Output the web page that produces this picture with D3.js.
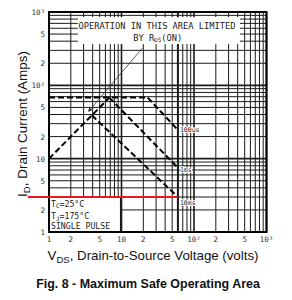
<!DOCTYPE html>
<html><head><meta charset="utf-8">
<script src="https://cdn.jsdelivr.net/npm/d3@7"></script>
<style>html,body{margin:0;padding:0;background:#fff;}svg{display:block;}</style>
</head><body>
<script>
// ---- data ----
const xTickValues = [1,2,5,10,20,50,100,200,500,1000];
const xTickLabels = ["1","2","5","10","2","5","10\u00B2","2","5","10\u00B3"];
const yTickValues = [1,2,5,10,20,50,100,200,500,1000];
const yTickLabels = ["1","2","5","10","2","5","10\u00B2","2","5","10\u00B3"];
// SOA boundary (V, A)
const rdsLimitV = [1, 6.8];
const rdsLimitI = [10, 68];
const pkgLimitV = [1, 23];
const pkgLimitI = [68, 68];
const line100usV = [23, 60];
const line100usI = [68, 24.6];
const line1msV = [6.8, 60];
const line1msI = [68, 7.5];
const line10msV = [3.9, 60];
const line10msI = [39, 3.0];
const curveLabels = ["100us","1ms","10ms"];
const redLineV = [0.51, 60];
const redLineI = [3.0, 3.0];
const arrowV = [19.2, 3.5];
const arrowI = [318, 44];

const W = 292, H = 300;
const svg = d3.select("body").append("svg").attr("width", W).attr("height", H);
const x = d3.scaleLog().domain([1,1000]).range([49, 266.5]);
const y = d3.scaleLog().domain([1,1000]).range([232, 12]);

function fit(sel, target) {
  const n = sel.node();
  const len = n.getComputedTextLength();
  const fs = parseFloat(sel.attr("font-size"));
  const k = target / len;
  sel.attr("font-size", fs * k);
  sel.selectAll("tspan").each(function() {
    const t = d3.select(this);
    if (t.attr("font-size")) t.attr("font-size", parseFloat(t.attr("font-size")) * k);
  });
}

// grid
const gridVals = [];
[1,10,100].forEach(d => { for (let m=1;m<=9;m++) gridVals.push(m*d); });
gridVals.push(1000);
const g = svg.append("g");
g.selectAll("line.vx").data(gridVals).join("line")
  .attr("x1", d=>x(d)).attr("x2", d=>x(d)).attr("y1", y(1)).attr("y2", y(1000))
  .attr("stroke", "#1a1a1a")
  .attr("stroke-width", d => (Math.log10(d)%1===0) ? 1.6 : (d===60 ? 2 : 1));
g.selectAll("line.hy").data(gridVals).join("line")
  .attr("y1", d=>y(d)).attr("y2", d=>y(d)).attr("x1", x(1)).attr("x2", x(1000))
  .attr("stroke", "#1a1a1a")
  .attr("stroke-width", d => (Math.log10(d)%1===0) ? 1.6 : 1);

// white annotation boxes
svg.append("rect").attr("x", x(2.5)).attr("y", y(850))
  .attr("width", x(430)-x(2.5)).attr("height", y(365)-y(850)).attr("fill", "#fff");
svg.append("rect").attr("x", x(1)+1).attr("y", y(2.9))
  .attr("width", x(9.7)-x(1)-1).attr("height", y(1)-y(2.9)).attr("fill", "#fff");
svg.append("line").attr("x1", x(9.7)).attr("x2", x(9.7)).attr("y1", y(2.9)).attr("y2", y(1))
  .attr("stroke", "#1a1a1a").attr("stroke-width", 1.2);

// frame
svg.append("rect").attr("x", x(1)).attr("y", y(1000))
  .attr("width", x(1000)-x(1)).attr("height", y(1)-y(1000))
  .attr("fill", "none").attr("stroke", "#000").attr("stroke-width", 2);

// SOA curves
const line = d3.line().x(d=>x(d[0])).y(d=>y(d[1]));
const curves = [
  [rdsLimitV, rdsLimitI], [pkgLimitV, pkgLimitI],
  [line100usV, line100usI], [line1msV, line1msI], [line10msV, line10msI]
];
svg.selectAll("path.soa").data(curves).join("path")
  .attr("d", c => line(d3.zip(c[0], c[1])))
  .attr("fill", "none").attr("stroke", "#000").attr("stroke-width", 2)
  .attr("stroke-dasharray", "6,3");

// curve labels
const mono = "DejaVu Sans Mono";
const labelData = [[line100usV, line100usI, 0], [line1msV, line1msI, 2], [line10msV, line10msI, 6]];
svg.selectAll("text.cl").data(labelData).join("text")
  .attr("x", d => x(d[0][1]) + 2).attr("y", (d) => y(d[1][1]) + d[2] + 2)
  .attr("font-family", mono).attr("font-size", 6.5).attr("fill", "#222")
  .attr("stroke", "#fff").attr("stroke-width", 2).attr("paint-order", "stroke")
  .text((d,i) => curveLabels[i]);

// arrow
svg.append("defs").append("marker").attr("id","ah").attr("viewBox","0 0 10 10")
  .attr("refX",9).attr("refY",5).attr("markerWidth",5).attr("markerHeight",5).attr("orient","auto")
  .append("path").attr("d","M0,0L10,5L0,10z").attr("fill","#222");
svg.append("line").attr("x1", x(arrowV[0])).attr("y1", y(arrowI[0]))
  .attr("x2", x(arrowV[1])).attr("y2", y(arrowI[1]))
  .attr("stroke", "#333").attr("stroke-width", 0.8).attr("marker-end","url(#ah)");

// red line
svg.append("line").attr("x1", x(redLineV[0])).attr("x2", x(redLineV[1]))
  .attr("y1", y(redLineI[0])).attr("y2", y(redLineI[1]))
  .attr("stroke", "#e8191c").attr("stroke-width", 2);

// annotation text
svg.append("text").attr("x", x(2.55)).attr("y", y(580)).attr("font-family", mono)
  .attr("font-size", 8.7).attr("fill", "#222").text("OPERATION IN THIS AREA LIMITED");
const t2 = svg.append("text").attr("x", x(14.5)).attr("y", y(400)).attr("font-family", mono)
  .attr("font-size", 8.7).attr("fill", "#222");
t2.append("tspan").text("BY R");
t2.append("tspan").attr("font-size", 6).attr("dy", 1).text("DS");
t2.append("tspan").attr("dy", -1).text("(ON)");

const b1 = svg.append("text").attr("x", x(1)+2).attr("y", y(2.2)).attr("font-family", mono)
  .attr("font-size", 8.2).attr("fill", "#222");
b1.append("tspan").text("T");
b1.append("tspan").attr("font-size", 6).attr("dy", 1.5).text("C");
b1.append("tspan").attr("dy", -1.5).text("=25\u00B0C");
const b2 = svg.append("text").attr("x", x(1)+2).attr("y", y(1.5)).attr("font-family", mono)
  .attr("font-size", 8.2).attr("fill", "#222");
b2.append("tspan").text("T");
b2.append("tspan").attr("font-size", 6).attr("dy", 1.5).text("J");
b2.append("tspan").attr("dy", -1.5).text("=175\u00B0C");
svg.append("text").attr("x", x(1)+2).attr("y", y(1.09)).attr("font-family", mono)
  .attr("font-size", 8.2).attr("fill", "#222").text("SINGLE PULSE");

// tick labels
svg.selectAll("text.xt").data(xTickValues).join("text")
  .attr("x", d=>x(d)).attr("y", 242).attr("text-anchor","middle")
  .attr("font-family", mono).attr("font-size", 7.5).attr("fill", "#333")
  .text((d,i)=>xTickLabels[i]);
svg.selectAll("text.yt").data(yTickValues).join("text")
  .attr("x", 45).attr("y", d=>y(d)+3).attr("text-anchor","end")
  .attr("font-family", mono).attr("font-size", 7.5).attr("fill", "#333")
  .text((d,i)=>yTickLabels[i]);

// axis titles
const sans = "Liberation Sans, Arial, sans-serif";
const yt = svg.append("text").attr("transform","translate(27,124) rotate(-90)")
  .attr("text-anchor","middle").attr("font-family", sans).attr("font-size", 12.5).attr("fill","#111");
yt.append("tspan").text("I");
yt.append("tspan").attr("font-size", 9).attr("dy", 3).text("D");
yt.append("tspan").attr("dy", -3).text(", Drain Current (Amps)");
fit(yt, 146);
const xt = svg.append("text").attr("x", 153).attr("y", 260)
  .attr("text-anchor","middle").attr("font-family", sans).attr("font-size", 12.5).attr("fill","#111");
xt.append("tspan").text("V");
xt.append("tspan").attr("font-size", 9).attr("dy", 3).text("DS");
xt.append("tspan").attr("dy", -3).text(", Drain-to-Source Voltage (volts)");
fit(xt, 211);

const cap = svg.append("text").attr("x", 148).attr("y", 288).attr("text-anchor","middle")
  .attr("font-family", sans).attr("font-weight","bold").attr("font-size", 11.5).attr("fill","#111")
  .text("Fig. 8 - Maximum Safe Operating Area");
fit(cap, 224);
</script>
</body></html>
